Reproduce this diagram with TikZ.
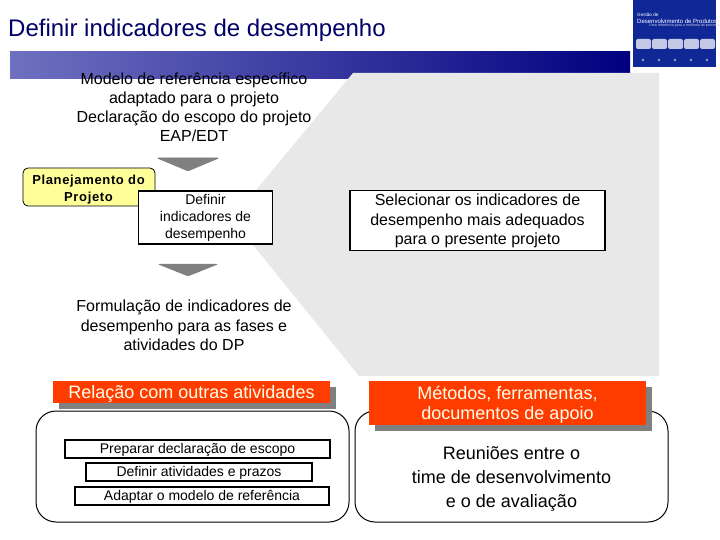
\documentclass[tikz,border=0pt]{standalone}
\usepackage{fontspec}
\setmainfont{Liberation Sans}
\usetikzlibrary{shadings}
\definecolor{navytitle}{RGB}{0,0,102}
\definecolor{barL}{RGB}{112,112,192}
\definecolor{barR}{RGB}{0,0,128}
\definecolor{graybg}{RGB}{232,232,232}
\definecolor{redbox}{RGB}{255,60,0}
\definecolor{yel}{RGB}{255,255,153}
\definecolor{shad}{RGB}{128,128,128}
\definecolor{trig}{RGB}{128,128,128}
\definecolor{logoblue}{RGB}{16,40,150}
\tikzset{
 sq/.style={draw=black,line width=1.8pt,fill=white,inner sep=0pt,align=center},
 plain/.style={inner sep=0pt,align=center,text=black},
 rnd/.style={draw=black,line width=1pt,fill=white,rounded corners=20pt},
 redb/.style={fill=redbox,inner sep=0pt,align=center},
 redt/.style={inner sep=0pt,align=center,text=white!92!yellow},
 shb/.style={fill=shad},
 tri/.style={fill=trig,draw=trig,line width=.5pt,rounded corners=1pt}
}
\newcommand{\fs}[2]{\fontsize{#1}{#2}\selectfont}
\begin{document}
\begin{tikzpicture}[x=1pt,y=-1pt]
\useasboundingbox (0,0) rectangle (720,540);
% title
\node[anchor=west,inner sep=0pt,text=navytitle,font=\fs{24}{26}] (title) at (8,30) {Definir indicadores de desempenho};
% bar
\shade[left color=barL,right color=barR] (10,52) rectangle (630,79);
% gray panel
\fill[graybg] (353,73) -- (659,73) -- (659,376) -- (359,376) -- (232,219) -- cycle;
% logo
\fill[logoblue] (633,0) rectangle (716,67);
\foreach \x in {636,652,668,684,700}{
  \fill[white!75!logoblue,rounded corners=2pt] (\x,39) rectangle ++(15,10);
  \fill[white!55!logoblue] (\x+7,60) circle (1.4);
}
\node[anchor=west,inner sep=0pt,text=white,font=\fs{4.6}{5}] (logo1) at (637,15) {Gestão de};
\node[anchor=west,inner sep=0pt,text=white,font=\fs{6}{6}] (logo2) at (637,21) {Desenvolvimento de Produtos};
\node[anchor=west,inner sep=0pt,text=white!80!logoblue,font=\fs{3.6}{4}] (logo3) at (649,26) {Uma referência para a melhoria do processo};
% inputs
\node[plain,font=\fs{16}{19}] (inputs) at (194,107) {Modelo de referência específico\\adaptado para o projeto\\Declaração do escopo do projeto\\EAP/EDT};
\fill[tri] (157,158) -- (219,158) -- (188,171) -- cycle;
% planejamento
\node[draw=black,line width=.8pt,fill=yel,rounded corners=5pt,minimum width=132pt,minimum height=38pt,inner sep=0pt] (plan) at (89,187) {};
\node[inner sep=0pt,align=center,text=black,font=\fs{13}{17}\addfontfeatures{LetterSpace=5}\bfseries] (plantext) at (88.5,189.5) {Planejamento do\\Projeto};
% definir
\node[sq,minimum width=134pt,minimum height=53pt,font=\fs{14}{17}] (definir) at (205.5,217.5) {Definir\\indicadores de\\desempenho};
\fill[tri] (158,264) -- (218,264) -- (188,276) -- cycle;
% selecionar
\node[sq,minimum width=255pt,minimum height=60pt] (selec) at (477.5,220.5) {};
\node[plain,font=\fs{16}{19.5}] (selectext) at (477.5,221) {Selecionar os indicadores de\\desempenho mais adequados\\para o presente projeto};
% outputs
\node[plain,font=\fs{16}{19.5}] (outputs) at (184,325.5) {Formulação de indicadores de\\desempenho para as fases e\\atividades do DP};
% rounded boxes
\draw[rnd] (36,411) rectangle (349,522);
\draw[rnd] (355,411) rectangle (668,522);
% red headers
\fill[shb] (59,387) rectangle (336,409);
\node[redb,minimum width=277pt,minimum height=22pt] (rel) at (191.5,392) {};
\node[redt,font=\fs{18}{20}] (reltext) at (191.5,394) {Relação com outras atividades};
\fill[shb] (375,387) rectangle (652,431);
\node[redb,minimum width=277pt,minimum height=44pt] (met) at (507.5,403) {};
\node[redt,font=\fs{18}{20.5}] (mettext) at (507.5,404.5) {Métodos, ferramentas,\\documentos de apoio};
% inner boxes
\node[sq,minimum width=265pt,minimum height=18pt] (prep) at (197.5,449) {};
\node[plain,font=\fs{14}{15}] (preptext) at (197.5,450) {Preparar declaração de escopo};
\node[sq,minimum width=226pt,minimum height=18pt] (defa) at (199,472) {};
\node[plain,font=\fs{14}{15}] (defatext) at (199,473) {Definir atividades e prazos};
\node[sq,minimum width=254pt,minimum height=18pt] (adap) at (202,496) {};
\node[plain,font=\fs{14}{15}] (adaptext) at (202,497) {Adaptar o modelo de referência};
% right text
\node[plain,font=\fs{18}{24}] (reun) at (511.5,478.5) {Reuniões entre o\\time de desenvolvimento\\e o de avaliação};
\end{tikzpicture}
\end{document}
